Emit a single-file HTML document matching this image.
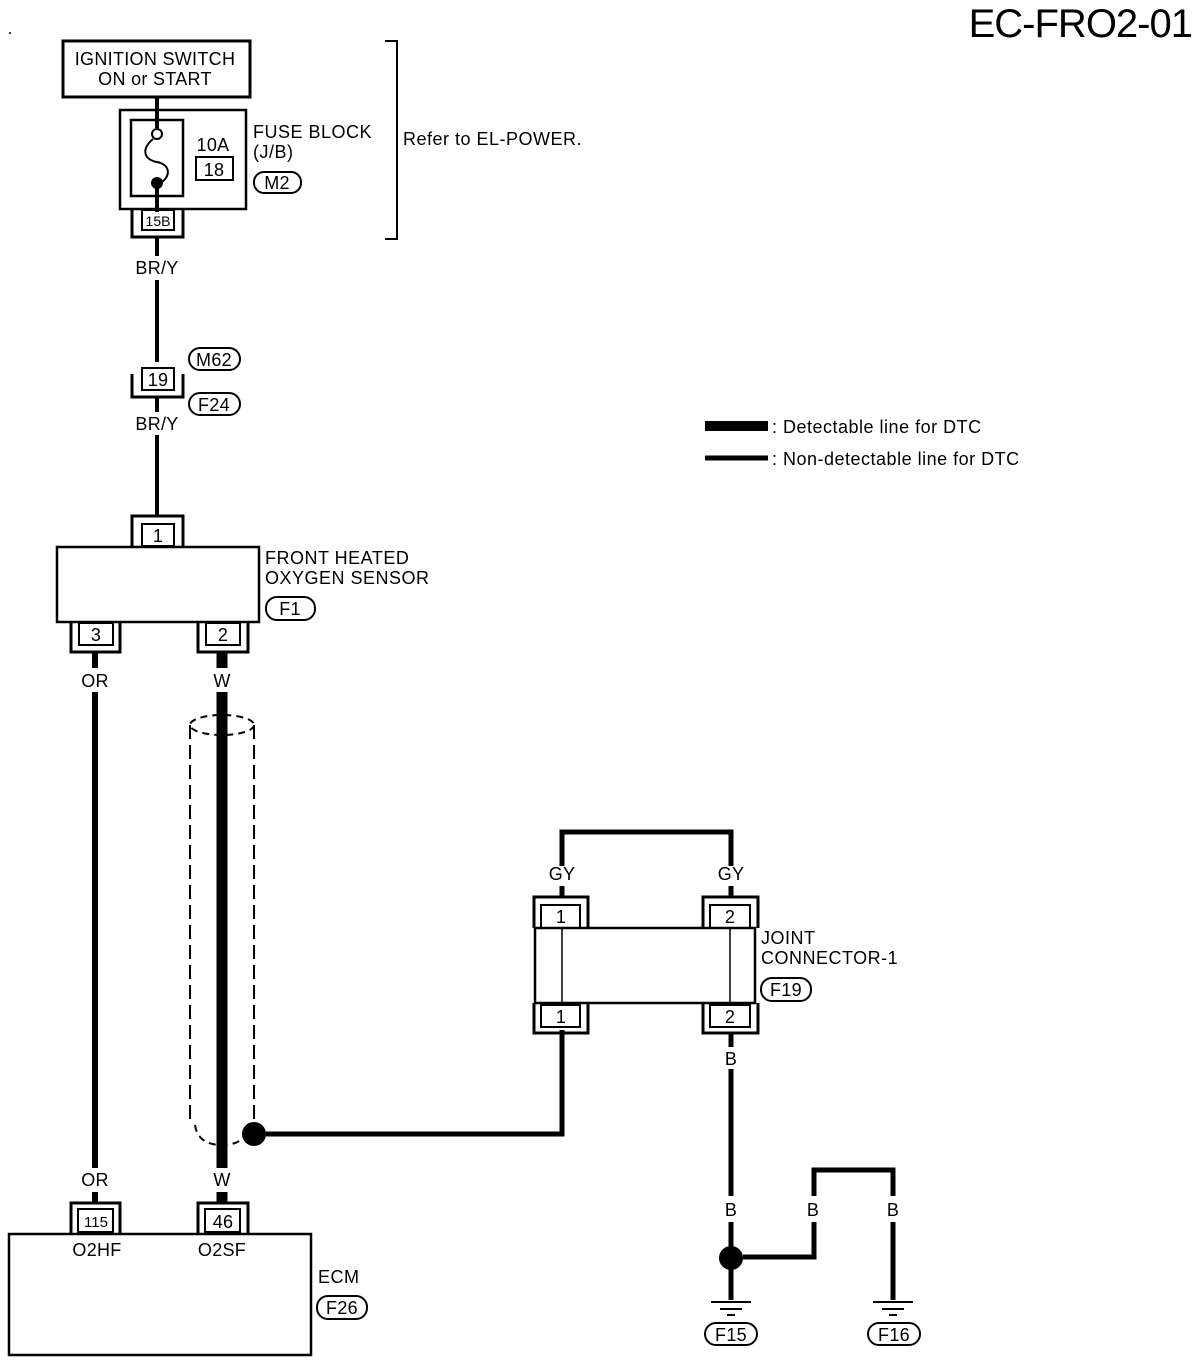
<!DOCTYPE html>
<html><head><meta charset="utf-8"><style>
html,body{margin:0;padding:0;background:#fff;}
svg{display:block;}
text{font-family:"Liberation Sans",Arial,sans-serif;fill:#000;}
</style></head><body>
<svg width="1200" height="1360" viewBox="0 0 1200 1360" xmlns="http://www.w3.org/2000/svg">
<g fill="none" stroke="#000">
<rect x="63" y="41" width="187" height="56" stroke-width="3"/>
<rect x="120" y="110" width="126" height="99" stroke-width="2.5"/>
<rect x="131" y="120" width="52" height="76" stroke-width="2.5"/>
<line x1="157" y1="97" x2="157" y2="128" stroke-width="4"/>
<circle cx="157" cy="134" r="5" stroke-width="2"/>
<path d="M153 139 C140 150,145 160,157 162 C172 165,170 178,160 183" stroke-width="2"/>
<line x1="157" y1="183" x2="157" y2="212" stroke-width="4"/>
<rect x="196" y="157" width="37" height="23" stroke-width="2"/>
<path d="M385 41 H397 V239 H385" stroke-width="2"/>
<rect x="142" y="210" width="32" height="20" stroke-width="2"/>
<path d="M132 210 V237 H183 V210" stroke-width="3"/>
<path d="M157 237 V256 M157 280 V362" stroke-width="4"/>
<rect x="142" y="368" width="32" height="22" stroke-width="2"/>
<path d="M132 374 V397 H183 V374" stroke-width="3"/>
<path d="M157 397 V412 M157 435 V516" stroke-width="4"/>
<rect x="142" y="524" width="32" height="22" stroke-width="2"/>
<path d="M132 546 V516 H183 V546" stroke-width="3"/>
<rect x="57" y="547" width="202" height="75" stroke-width="2.5"/>
<rect x="79" y="623" width="34" height="22" stroke-width="2"/>
<path d="M71 623 V652 H120 V623" stroke-width="3"/>
<rect x="206" y="623" width="34" height="22" stroke-width="2"/>
<path d="M198 623 V652 H248 V623" stroke-width="3"/>
<path d="M95 652 V668 M95 692 V1168 M95 1192 V1203" stroke-width="6"/>
<path d="M222 652 V668 M222 692 V1168 M222 1192 V1203" stroke-width="11"/>
<ellipse cx="222" cy="725" rx="32" ry="10" stroke-width="2" stroke-dasharray="7 5"/>
<path d="M190 725 V1125 M254 725 V1125" stroke-width="2" stroke-dasharray="14 6"/>
<path d="M195 1125 Q198 1145 222 1145 Q246 1145 249 1125" stroke-width="2" stroke-dasharray="7 5"/>
<path d="M266 1134 H562 V1030" stroke-width="5"/>
<rect x="78" y="1209" width="35" height="23" stroke-width="2"/>
<path d="M71 1234 V1203 H120 V1234" stroke-width="3"/>
<rect x="205" y="1209" width="35" height="23" stroke-width="2"/>
<path d="M198 1234 V1203 H248 V1234" stroke-width="3"/>
<rect x="9" y="1234" width="302" height="121" stroke-width="2.5"/>
<path d="M562 866 V832 H731 V866" stroke-width="5"/>
<path d="M562 886 V897 M731 886 V897" stroke-width="5"/>
<rect x="541" y="905" width="39" height="23" stroke-width="2"/>
<path d="M534 928 V897 H588 V928" stroke-width="3"/>
<rect x="710" y="905" width="40" height="23" stroke-width="2"/>
<path d="M703 928 V897 H758 V928" stroke-width="3"/>
<rect x="535" y="928" width="220" height="75" stroke-width="2.5"/>
<path d="M562 928 V1003 M730 928 V1003" stroke-width="1.5"/>
<rect x="541" y="1005" width="39" height="22" stroke-width="2"/>
<path d="M534 1003 V1033 H588 V1003" stroke-width="3"/>
<rect x="710" y="1005" width="40" height="22" stroke-width="2"/>
<path d="M703 1003 V1033 H758 V1003" stroke-width="3"/>
<path d="M731 1033 V1047 M731 1069 V1196 M731 1222 V1300" stroke-width="5"/>
<path d="M743 1257 H814 V1222 M814 1196 V1170 H893 V1196 M893 1222 V1300" stroke-width="5"/>
<path d="M711 1302 H751 M720 1309 H742 M727 1315 H735" stroke-width="2"/>
<path d="M873 1302 H913 M882 1309 H904 M889 1315 H897" stroke-width="2"/>
<rect x="254" y="172" width="47" height="21" rx="10" stroke-width="2"/>
<rect x="189" y="348" width="51" height="22" rx="11" stroke-width="2"/>
<rect x="189" y="393" width="51" height="22" rx="11" stroke-width="2"/>
<rect x="266" y="597" width="49" height="23" rx="11" stroke-width="2"/>
<rect x="317" y="1296" width="50" height="23" rx="11" stroke-width="2"/>
<rect x="761" y="978" width="50" height="23" rx="11" stroke-width="2"/>
<rect x="705" y="1323" width="52" height="22" rx="11" stroke-width="2"/>
<rect x="868" y="1323" width="52" height="22" rx="11" stroke-width="2"/>
<line x1="705" y1="426" x2="768" y2="426" stroke-width="10"/>
<line x1="705" y1="458" x2="768" y2="458" stroke-width="5"/>
</g>
<g fill="#000">
<circle cx="157" cy="183" r="6"/>
<circle cx="254" cy="1134" r="12"/>
<circle cx="731" cy="1258" r="12"/>
<circle cx="10" cy="33" r="1"/>
</g>
<g font-size="18" text-anchor="middle" letter-spacing="0.3">
<text x="155" y="65">IGNITION SWITCH</text>
<text x="155" y="85">ON or START</text>
<text x="213" y="151">10A</text>
<text x="214" y="176">18</text>
<text x="158" y="226" font-size="14" letter-spacing="0">15B</text>
<text x="157" y="274">BR/Y</text>
<text x="158" y="386">19</text>
<text x="157" y="430">BR/Y</text>
<text x="158" y="542">1</text>
<text x="96" y="641">3</text>
<text x="223" y="641">2</text>
<text x="95" y="687">OR</text>
<text x="222" y="687">W</text>
<text x="95" y="1186">OR</text>
<text x="222" y="1186">W</text>
<text x="96" y="1227" font-size="15" letter-spacing="0">115</text>
<text x="223" y="1228">46</text>
<text x="97" y="1256">O2HF</text>
<text x="222" y="1256">O2SF</text>
<text x="562" y="880">GY</text>
<text x="731" y="880">GY</text>
<text x="561" y="923">1</text>
<text x="730" y="923">2</text>
<text x="561" y="1023">1</text>
<text x="730" y="1023">2</text>
<text x="731" y="1065">B</text>
<text x="731" y="1216">B</text>
<text x="813" y="1216">B</text>
<text x="893" y="1216">B</text>
<text x="277" y="189">M2</text>
<text x="214" y="366">M62</text>
<text x="214" y="411">F24</text>
<text x="290" y="615">F1</text>
<text x="342" y="1314">F26</text>
<text x="786" y="996">F19</text>
<text x="731" y="1341">F15</text>
<text x="894" y="1341">F16</text>
</g>
<g font-size="18" letter-spacing="0.5">
<text x="253" y="138">FUSE BLOCK</text>
<text x="253" y="158">(J/B)</text>
<text x="403" y="145">Refer to EL-POWER.</text>
<text x="265" y="564">FRONT HEATED</text>
<text x="265" y="584">OXYGEN SENSOR</text>
<text x="761" y="944">JOINT</text>
<text x="761" y="964">CONNECTOR-1</text>
<text x="318" y="1283">ECM</text>
<text x="772" y="433">: Detectable line for DTC</text>
<text x="772" y="465">: Non-detectable line for DTC</text>
<text x="1192" y="37" font-size="40" text-anchor="end" letter-spacing="-1">EC-FRO2-01</text>
</g>
</svg>
</body></html>
